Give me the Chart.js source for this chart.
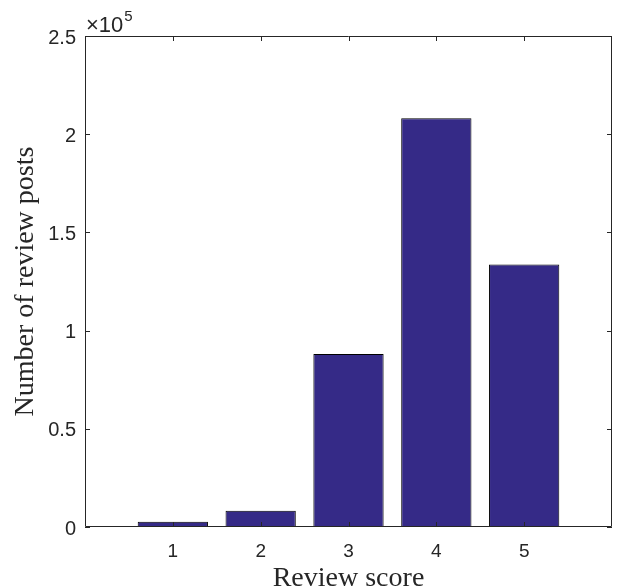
<!DOCTYPE html>
<html>
<head>
<meta charset="utf-8">
<script src="https://cdn.jsdelivr.net/npm/chart.js@4"></script>
<style>
  html, body { margin: 0; padding: 0; background: #fff; }
  canvas { display: block; }
</style>
</head>
<body>
<canvas id="scoreChart" width="619" height="587"></canvas>
<script>
// review score histogram
const scores = [1, 2, 3, 4, 5];
const posts = [2700, 8300, 88100, 208100, 133600];
const yTicks = [0, 50000, 100000, 150000, 200000, 250000];

const axisColor = '#262626';
const tickLen = 5;

// box, inward ticks and the x10^5 exponent, like a matlab axes
const boxPlugin = {
    id: 'box',
    afterDatasetsDraw(chart) {
        const ctx = chart.ctx;
        const a = chart.chartArea;
        const xs = chart.scales.x;
        const ys = chart.scales.y;
        ctx.save();
        ctx.strokeStyle = axisColor;
        ctx.lineWidth = 1;
        ctx.beginPath();
        ctx.rect(Math.round(a.left) + 0.5, Math.round(a.top) + 0.5,
            Math.round(a.right - a.left) - 1, Math.round(a.bottom - a.top) - 1);
        scores.forEach(s => {
            const px = Math.round(xs.getPixelForValue(s)) + 0.5;
            ctx.moveTo(px, a.bottom);
            ctx.lineTo(px, a.bottom - tickLen);
            ctx.moveTo(px, a.top);
            ctx.lineTo(px, a.top + tickLen);
        });
        yTicks.forEach(v => {
            const py = Math.round(ys.getPixelForValue(v)) + 0.5;
            ctx.moveTo(a.left, py);
            ctx.lineTo(a.left + tickLen, py);
            ctx.moveTo(a.right, py);
            ctx.lineTo(a.right - tickLen, py);
        });
        ctx.stroke();

        ctx.fillStyle = axisColor;
        ctx.textBaseline = 'alphabetic';
        ctx.textAlign = 'left';
        ctx.font = '22px "Liberation Sans"';
        ctx.fillText('\u00d710', a.left + 1, a.top - 4);
        const w = ctx.measureText('\u00d710').width;
        ctx.font = '15px "Liberation Sans"';
        ctx.fillText('5', a.left + 2 + w, a.top - 15);
        ctx.restore();
    }
};

new Chart(document.getElementById('scoreChart'), {
    type: 'bar',
    data: {
        labels: scores,
        datasets: [{
            data: posts,
            backgroundColor: '#352a87',
            borderColor: '#000000',
            borderWidth: 1,
            categoryPercentage: 1,
            barPercentage: 0.8
        }]
    },
    options: {
        responsive: false,
        animation: false,
        events: [],
        layout: { padding: { top: 36, right: 7, left: 0, bottom: 0 } },
        plugins: { legend: { display: false }, tooltip: { enabled: false } },
        scales: {
            x: {
                type: 'linear',
                offset: false,
                min: 0,
                max: 6,
                grid: { display: false, drawTicks: false },
                border: { display: false },
                afterFit(scale) {
                    scale.height = 60;
                    scale.paddingLeft = 0;
                    scale.paddingRight = 0;
                },
                ticks: {
                    stepSize: 1,
                    padding: 13,
                    color: axisColor,
                    font: { family: 'Liberation Sans', size: 19 },
                    callback: v => (v >= 1 && v <= 5) ? String(v) : ''
                },
                title: {
                    display: true,
                    text: 'Review score',
                    color: axisColor,
                    font: { family: 'Liberation Serif', size: 28, lineHeight: 0.75 },
                    padding: { top: 0, bottom: -2 }
                }
            },
            y: {
                min: 0,
                max: 250000,
                grid: { display: false, drawTicks: false },
                border: { display: false },
                afterFit(scale) {
                    scale.width = 85;
                    scale.paddingTop = 0;
                    scale.paddingBottom = 0;
                },
                ticks: {
                    stepSize: 50000,
                    padding: 9,
                    labelOffset: 2,
                    color: axisColor,
                    font: { family: 'Liberation Sans', size: 20 },
                    callback: v => String(v / 100000)
                },
                title: {
                    display: true,
                    text: 'Number of review posts',
                    color: axisColor,
                    font: { family: 'Liberation Serif', size: 28, lineHeight: 0.75 },
                    padding: { top: 15, bottom: 0 }
                }
            }
        }
    },
    plugins: [boxPlugin]
});
</script>
</body>
</html>
